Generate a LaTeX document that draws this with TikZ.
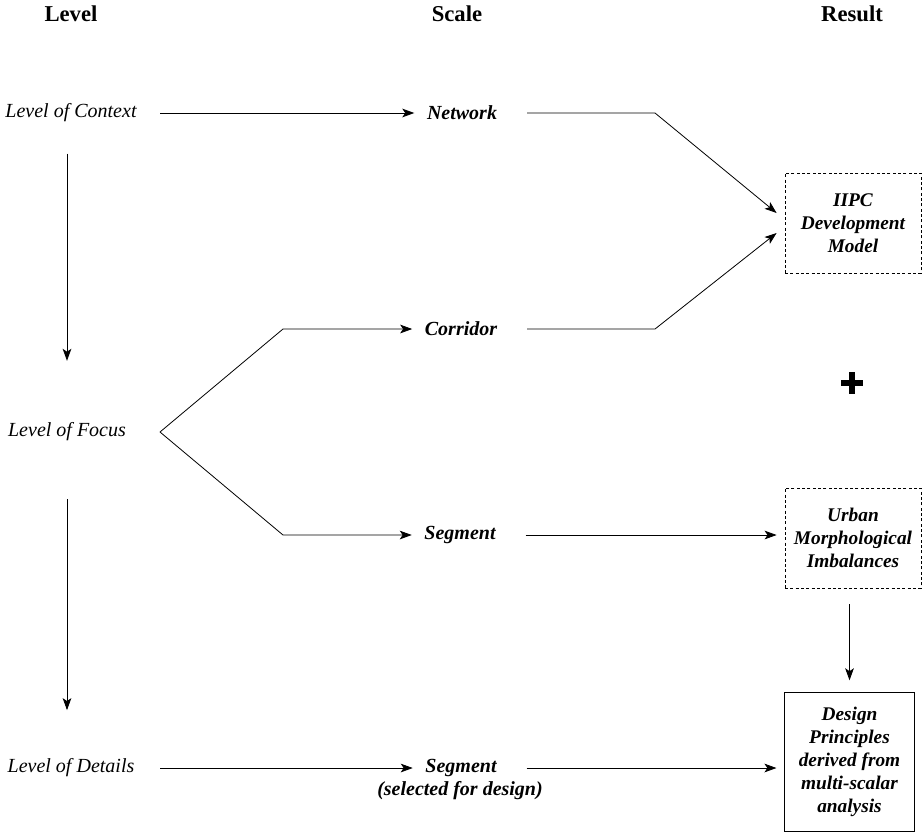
\documentclass[tikz,border=0pt]{standalone}
\usepackage{fontspec}
\setmainfont{Liberation Serif}
\usetikzlibrary{arrows.meta}

\newcommand{\sz}{\fontsize{15}{17.25}\selectfont}
\newcommand{\boxsz}{\fontsize{14.5}{17.25}\selectfont}
\newcommand{\headsz}{\fontsize{17}{20}\selectfont}

\tikzset{
  headtxt/.style={font=\headsz\bfseries},
  lvltxt/.style={font=\sz\itshape},
  scaletxt/.style={font=\sz\bfseries\itshape},
  resbox/.style={draw, dash pattern=on 2.2pt off 1.8pt, line width=0.6pt,
    align=center, font=\boxsz\bfseries\itshape, minimum width=102pt,
    minimum height=75pt, inner sep=1pt},
  finalbox/.style={resbox, solid, minimum width=97pt, minimum height=104pt},
  arr/.style={-{Stealth[length=9pt,width=6.5pt,inset=2.2pt]}, line width=0.6pt},
}

\begin{document}
\begin{tikzpicture}[x=0.75pt,y=-0.75pt]
    \useasboundingbox (0,0) rectangle (923,833);

    % column heads
    \node[headtxt] (hlevel) at (71,14) {Level};
    \node[headtxt] (hscale) at (457,14) {Scale};
    \node[headtxt] (hresult) at (852,14) {Result};

    % levels
    \node[lvltxt] (ctx) at (71,113) {Level of Context};
    \node[lvltxt] (foc) at (67,432) {Level of Focus};
    \node[lvltxt] (det) at (71,768) {Level of Details};
    \coordinate (fork) at (160,432);

    % scales
    \node[scaletxt] (net) at (462,113) {Network};
    \node[scaletxt] (cor) at (461,329) {Corridor};
    \node[scaletxt] (seg) at (460,535) {Segment};
    \node[scaletxt] (segd) at (461,768) {Segment};
    \node[scaletxt] (segnote) at (460,791) {(selected for design)};

    % results
    \node[resbox] (iipc) at (853,223) {IIPC\\Development\\Model};
    \node[resbox] (urban) at (853,538) {Urban\\Morphological\\Imbalances};
    \node[finalbox] (design) at (849.5,762) {Design\\Principles\\derived from\\multi-scalar\\analysis};
    \draw[line width=5.2pt] (841,383) -- (863,383) (852,372) -- (852,394);

    \coordinate (netbend) at (655,113);
    \coordinate (corbend) at (655,329);
    \coordinate (corup) at (283,329);
    \coordinate (segdn) at (283,535);

    % connectors
    \draw[arr] (ctx.east -| fork) -- ([xshift=-6pt]net.west);
    \draw[arr] ([xshift=19pt]net.east) -- (netbend) -- ([shift={(-8,-10)}]iipc.west);
    \draw[arr] (fork) -- (corup) -- ([xshift=-6pt]cor.west);
    \draw[arr] ([xshift=19pt]cor.east) -- (corbend) -- ([shift={(-8,10)}]iipc.west);
    \draw[arr] (fork) -- (segdn) -- ([xshift=-6pt]seg.west);
    \draw[arr] ([xshift=19pt]seg.east) -- ([xshift=-6pt]urban.west |- seg);
    \draw[arr] (det.east -| fork) -- ([xshift=-6pt]segd.west);
    \draw[arr] ([xshift=19pt]segd.east) -- ([xshift=-6pt]design.west |- segd);

    \draw[arr, shorten <=20pt, shorten >=43pt] (ctx.south -| foc) -- (foc.north);
    \draw[arr, shorten <=40pt, shorten >=33pt] (foc.south) -- (det.north -| foc);
    \draw[arr, shorten <=12pt, shorten >=9pt] (urban.south -| design) -- (design.north);
\end{tikzpicture}
\end{document}
